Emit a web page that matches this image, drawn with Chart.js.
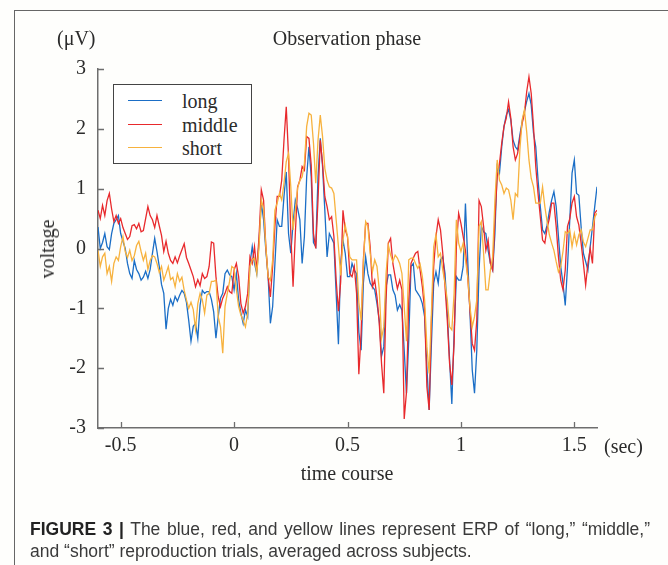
<!DOCTYPE html>
<html>
<head>
<meta charset="utf-8">
<script src="https://cdn.jsdelivr.net/npm/chart.js@4"></script>
<style>
  body { margin: 0; background: #fff; }
  #fig { position: relative; width: 668px; height: 565px; overflow: hidden; background: #fefefc; font-family: 'Liberation Serif', serif; color: #2b2b2b; }
  #chart { position: absolute; left: 0; top: 0; }
  .lbl { position: absolute; font-size: 20px; line-height: 24px; white-space: nowrap; }
  #frameTop { position: absolute; left: 15px; top: 10px; right: 0; border-top: 1.5px solid #666; }
  #frameLeft { position: absolute; left: 14px; top: 10px; bottom: 0; border-left: 1.5px solid #666; }
  #legend { position: absolute; left: 113px; top: 84px; width: 139px; height: 80px; border: 1.5px solid #444; background: #fff; box-sizing: border-box; }
  .row { position: absolute; left: 0; height: 24px; }
  .row .swatch { position: absolute; left: 14px; top: 11px; width: 34px; height: 0; border-top: 1.3px solid; }
  .row .name { position: absolute; left: 68px; top: 0; font-size: 20px; line-height: 24px; }
  #caption { position: absolute; left: 30px; top: 518px; width: 620px; font-family: 'Liberation Sans', sans-serif; font-size: 17.5px; line-height: 22px; color: #3a3a3a; text-align: justify; }
  #caption b { color: #222; }
</style>
</head>
<body>
<div id="fig">
  <div id="frameTop"></div>
  <div id="frameLeft"></div>
  <canvas id="chart" width="668" height="565"></canvas>
  <div class="lbl" style="left:57px; top:26px;">(μV)</div>
  <div class="lbl" style="left:347px; top:26px; transform:translateX(-50%);">Observation phase</div>
  <div class="lbl" style="left:47px; top:249px; transform:translate(-50%,-50%) rotate(-90deg);">voltage</div>
  <div class="lbl" style="left:604px; top:434px;">(sec)</div>
  <div class="lbl" style="left:347px; top:461px; transform:translateX(-50%);">time course</div>
  <div id="legend"></div>
  <div id="caption"><b>FIGURE 3 |</b> The blue, red, and yellow lines represent ERP of “long,” “middle,” and “short” reproduction trials, averaged across subjects.</div>
</div>
<script>
// sampling grid of the averaged ERP (sec)
var timeStart = -0.6;
var timeStep = 0.01;

var categories = ['long', 'middle', 'short'];
var lineColors = ['#1b6ec6', '#e8292c', '#f7b23e'];
var xTicks = [-0.5, 0, 0.5, 1, 1.5];
var yTicks = [-3, -2, -1, 0, 1, 2, 3];

// voltage (uV), one value per 10 ms from -0.6 to 1.6 s
var longValues = [
  0.36, 0.00, 0.10, 0.25, 0.03, -0.02, 0.25, 0.42, 0.48, 0.55,
  0.25, 0.12, 0.00, -0.25, -0.42, -0.50, -0.20, -0.35, -0.42, -0.53,
  -0.48, -0.38, -0.50, -0.35, -0.08, 0.17, -0.05, -0.30, -0.60, -0.75,
  -1.35, -1.00, -0.85, -0.95, -0.80, -0.88, -0.78, -0.70, -0.75, -0.90,
  -1.20, -1.55, -1.30, -1.25, -1.50, -0.95, -0.70, -0.75,
  -0.72, -0.72, -0.85, -1.06, -1.50, -1.14, -0.83, -0.75, -0.42, -0.36,
  -0.44, -0.47, -0.69, -0.42, -0.86, -1.08, -1.25, -1.03, -1.14, -0.25,
  0.03, -0.25, -0.42, 0.11, 0.76, 0.48, -0.03, -0.47, -1.25, -0.97,
  -0.25, 0.48, 0.37, 0.37, 0.87, 1.28, 0.25, -0.08, 0.42, 0.81,
  0.67, 0.48, -0.25, 0.20, 1.20, 1.70,
  1.20, 0.10, 0.03, 1.20, 1.84, 1.37, 0.64, -0.14, 0.25, 0.17,
  0.09, -0.75, -1.60, -0.25, 0.14, -0.08, -0.47, -0.47, -0.25, -0.36,
  -0.42, -1.40, -1.70, -0.58, -0.14, -0.42, -0.58, -0.64, -0.69, -0.92,
  -1.20, -1.80, -1.64, -0.64, -0.44, -0.44, -0.69, -0.78, -1.03, -0.94,
  -1.03, -1.70, -2.42, -1.53, -0.30, -0.25,
  -0.69, -0.75, -0.81, -0.92, -1.14, -1.98, -2.70, -1.59, -0.58, -0.39,
  -0.58, -0.19, -0.14, -0.42, -1.08, -1.86, -2.60, -1.42, -0.47, -0.53,
  -0.53, -0.30, 0.75, -0.19, -1.08, -2.03, -2.42, -1.70, -0.36, 0.37,
  0.28, 0.25, -0.03, -0.25, -0.36, 0.25, 1.37, 1.26, 1.70, 2.04,
  2.23, 2.32, 2.15, 1.81, 1.70,
  1.65, 1.90, 2.12, 2.29, 2.46, 2.59, 2.40, 1.93, 1.70, 1.15,
  0.70, 0.31, 0.25, 0.39, 0.62, 0.81, 0.95, 0.70, 0.20, -0.30,
  -0.58, -0.95, -0.30, 0.48, 1.26, 1.48, 0.92, 0.89, 0.36, -0.08,
  -0.22, -0.36, 0.03, 0.36, 0.70, 1.03
];

var middleValues = [
  0.64, 0.50, 0.72, 0.55, 0.80, 0.92, 0.66, 0.45, 0.55, 0.42,
  0.50, 0.35, 0.25, 0.15, 0.20, 0.38, 0.40, 0.33, 0.42, 0.28,
  0.30, 0.50, 0.70, 0.55, 0.48, 0.35, 0.55, 0.38, 0.22, -0.05,
  0.12, -0.08, -0.20, -0.25, -0.14, -0.24, -0.12, -0.02, 0.08, -0.15,
  -0.25, -0.36, -0.47, -0.64, -0.52, -0.62, -0.42, -0.50,
  -0.47, -0.30, 0.11, 0.09, -0.47, -0.81, -0.97, -0.83, -0.75, -0.64,
  -0.72, -0.75, -0.36, -0.25, -0.47, -0.92, -1.08, -0.97, -0.75, -0.14,
  -0.25, 0.03, -0.36, 0.20, 0.98, 0.81, 0.03, -0.47, -0.81, -0.30,
  0.37, 0.87, 0.87, 1.14, 1.81, 2.37, 1.54, 0.25, -0.64, 0.25,
  1.03, 1.14, 1.37, 1.31, 1.87, 1.84,
  1.40, 0.25, 0.00, 0.81, 1.81, 1.42, 0.87, 0.70, 0.48, 0.53,
  0.20, -0.53, -1.05, -0.55, 0.64, 0.31, 0.20, -0.42, -0.47, -0.30,
  -0.75, -2.10, -1.42, -0.19, 0.42, 0.42, 0.03, -0.64, -0.53, -0.81,
  -1.25, -1.92, -2.42, -0.86, 0.09, 0.17, -0.25, -0.47, -0.67, -0.53,
  -0.69, -2.85, -2.40, -0.86, -0.25, -0.16,
  -0.08, -0.05, -0.36, -0.64, -1.03, -2.31, -2.70, -1.20, -0.30, 0.20,
  0.48, 0.31, -0.08, -0.64, -1.20, -1.92, -2.28, -1.59, 0.03, 0.59,
  0.42, 0.20, -0.03, -0.47, -1.03, -1.59, -1.70, -1.20, 0.80, 0.70,
  0.37, -0.03, 0.14, -0.25, -0.36, 0.48, 1.20, 1.42, 1.76, 2.04,
  2.18, 2.45, 2.18, 1.70, 1.48,
  1.59, 1.84, 2.09, 2.26, 2.62, 2.87, 2.59, 2.04, 1.37, 0.92,
  0.53, 0.14, 0.09, 0.34, 0.50, 0.76, 0.76, 0.37, -0.14, -0.53,
  -0.69, -0.36, 0.37, 0.50, 0.76, 0.87, 0.53, 0.39, 0.09, -0.25,
  -0.61, -0.25, 0.00, -0.25, 0.59, 0.64
];

var shortValues = [
  -0.03, -0.30, -0.14, -0.08, -0.42, -0.30, -0.55, -0.25, -0.14, -0.20,
  0.03, 0.20, -0.05, -0.15, -0.03, -0.20, -0.12, 0.05, 0.12, -0.05,
  -0.20, -0.08, -0.35, -0.20, -0.12, -0.14, -0.25, -0.40, -0.30, -0.53,
  -0.42, -0.30, -0.52, -0.48, -0.64, -0.42, -0.55, -0.48, -0.70, -0.86,
  -1.00, -0.90, -1.02, -1.35, -0.92, -0.75, -0.86, -1.08,
  -0.78, -0.75, -0.55, -0.55, -0.53, -1.14, -1.31, -1.75, -0.97, -0.75,
  -0.55, -0.30, -0.33, -0.69, -0.97, -1.11, -1.20, -1.31, -1.08, -0.30,
  -0.19, -0.16, -0.42, 0.03, 0.81, 0.67, 0.03, -0.47, -0.53, -0.19,
  0.64, 0.76, 0.92, 0.81, 1.09, 1.45, 1.59, 1.03, 0.31, 0.64,
  1.01, 1.14, 1.20, 1.42, 2.04, 2.26,
  2.23, 1.76, 1.09, 1.81, 2.23, 1.87, 1.34, 1.14, 1.03, 1.01,
  0.92, 0.48, 0.03, -0.45, 0.14, 0.39, 0.20, -0.14, -0.19, -0.19,
  -0.19, -0.90, -1.20, -0.25, 0.45, 0.37, -0.08, -0.39, -0.19, -0.30,
  -0.69, -1.50, -1.31, -0.42, 0.06, -0.11, -0.22, -0.11, -0.16, -0.25,
  -0.42, -0.97, -1.55, -0.19, -0.16, -0.16,
  -0.25, -0.33, -0.26, -0.47, -0.86, -1.64, -2.09, -1.08, 0.03, 0.23,
  -0.14, -0.08, -0.36, -0.58, -0.86, -1.31, -1.36, -0.75, 0.48, 0.09,
  -0.05, 0.09, -0.19, -0.47, -0.97, -1.31, -1.14, -0.86, 0.37, 0.45,
  -0.08, -0.69, -0.69, -0.36, -0.14, 0.81, 1.48, 1.14, 1.06, 0.92,
  1.01, 0.98, 0.81, 0.48, 0.92,
  0.87, 1.65, 2.15, 2.32, 1.95, 1.48, 1.17, 1.03, 0.76, 0.76,
  0.76, 1.03, 0.70, 0.45, 0.23, 0.09, -0.03, -0.22, -0.39, -0.30,
  -0.05, 0.28, 0.25, 0.31, 0.03, 0.25, 0.06, 0.23, 0.31, 0.11,
  0.03, 0.17, 0.31, 0.31, 0.53, 0.59
];

var seriesValues = [longValues, middleValues, shortValues];

function toPoints(values) {
  return values.map(function (v, i) {
    return { x: +(timeStart + i * timeStep).toFixed(2), y: v };
  });
}

// legend box (drawn as html, sits inside the plot)
var legend = document.getElementById('legend');
categories.forEach(function (name, i) {
  var row = document.createElement('div');
  row.className = 'row';
  row.style.top = (4 + i * 23.5) + 'px';
  row.style.width = '100%';
  row.innerHTML = '<span class="swatch" style="border-color:' + lineColors[i] + '"></span><span class="name">' + name + '</span>';
  legend.appendChild(row);
});

// inward tick marks like the original figure
var inwardTicks = {
  id: 'inwardTicks',
  afterDraw: function (chart) {
    var ctx = chart.ctx;
    var area = chart.chartArea;
    var xs = chart.scales.x, ys = chart.scales.y;
    ctx.save();
    ctx.strokeStyle = '#6e6e6e';
    ctx.lineWidth = 1.3;
    ctx.beginPath();
    xTicks.forEach(function (v) {
      var px = Math.round(xs.getPixelForValue(v)) + 0.5;
      ctx.moveTo(px, area.bottom);
      ctx.lineTo(px, area.bottom - 6);
    });
    yTicks.forEach(function (v) {
      var py = Math.round(ys.getPixelForValue(v)) + 0.5;
      ctx.moveTo(area.left, py);
      ctx.lineTo(area.left + 6, py);
    });
    ctx.stroke();
    ctx.restore();
  }
};

var tickFont = { family: "'Liberation Serif', serif", size: 20 };

var chart = new Chart(document.getElementById('chart').getContext('2d'), {
  type: 'line',
  data: {
    datasets: categories.map(function (name, i) {
      return {
        label: name,
        data: toPoints(seriesValues[i]),
        borderColor: lineColors[i],
        borderWidth: 1.3,
        pointRadius: 0,
        tension: 0,
        fill: false,
        order: 2 - i
      };
    })
  },
  options: {
    responsive: false,
    animation: false,
    devicePixelRatio: 1,
    layout: { padding: { left: 0, right: 71, top: 69, bottom: 97 } },
    plugins: { legend: { display: false }, tooltip: { enabled: false } },
    scales: {
      x: {
        type: 'linear',
        min: -0.6,
        max: 1.6,
        afterBuildTicks: function (scale) {
          scale.ticks = xTicks.map(function (v) { return { value: v }; });
        },
        afterFit: function (scale) { scale.height = 40; },
        grid: { display: false, drawTicks: false },
        border: { display: true, color: '#6e6e6e', width: 1.5 },
        ticks: { font: tickFont, color: '#2b2b2b', padding: 6, maxRotation: 0,
          callback: function (v) { return String(v); } }
      },
      y: {
        min: -3,
        max: 3,
        afterBuildTicks: function (scale) {
          scale.ticks = yTicks.map(function (v) { return { value: v }; });
        },
        afterFit: function (scale) { scale.width = 98; },
        grid: { display: false, drawTicks: false },
        border: { display: true, color: '#6e6e6e', width: 1.5 },
        ticks: { font: tickFont, color: '#2b2b2b', padding: 12,
          callback: function (v) { return String(v); } }
      }
    }
  },
  plugins: [inwardTicks]
});
</script>
</body>
</html>
